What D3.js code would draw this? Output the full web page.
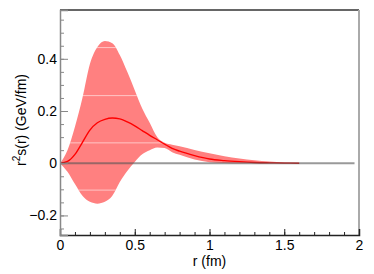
<!DOCTYPE html>
<html>
<head>
<meta charset="utf-8">
<script src="https://cdn.jsdelivr.net/npm/d3@7"></script>
<style>
  body { margin: 0; background: #fff; }
  text { font-family: "Liberation Sans", Arial, sans-serif; }
</style>
</head>
<body>
<div id="vis"></div>
<script>
// chart values
var radius  = [0, 0.05, 0.1, 0.15, 0.2, 0.25, 0.3, 0.35, 0.4, 0.45, 0.5, 0.55, 0.6, 0.65, 0.7,
               0.75, 0.8, 0.9, 1.0, 1.1, 1.2, 1.3, 1.4, 1.5, 1.6];
var central = [0, 0.007, 0.034, 0.08, 0.127, 0.155, 0.168, 0.173, 0.17, 0.158, 0.143, 0.125, 0.107, 0.09, 0.073,
               0.057, 0.046, 0.029, 0.016, 0.01, 0.006, 0.003, 0.0015, 0.0005, 0];
var upper   = [0, 0.05, 0.14, 0.25, 0.38, 0.445, 0.468, 0.46, 0.415, 0.35, 0.28, 0.21, 0.155, 0.1, 0.078,
               0.071, 0.065, 0.051, 0.038, 0.027, 0.018, 0.011, 0.0065, 0.003, 0.001];
var lower   = [0, -0.033, -0.08, -0.125, -0.148, -0.155, -0.148, -0.125, -0.072, -0.03, 0.005, 0.034, 0.05, 0.06, 0.058,
               0.042, 0.032, 0.014, 0.004, 0.001, 0, 0, 0, 0, 0];
// faint seams that show inside the filled band
var seams = [0.443, 0.259, 0.078, -0.103];

var xMajor = [0, 0.5, 1, 1.5, 2];
var yMajor = [-0.2, 0, 0.2, 0.4];

var width = 374;
var height = 274;
var margin = { top: 10, right: 15, bottom: 39, left: 60 };
var fontSize = 14;

var svg = d3.select('#vis')
    .append('svg')
    .attr('width', width)
    .attr('height', height);

var w = width - margin.left - margin.right;
var h = height - margin.top - margin.bottom;

var g = svg.append('g')
    .attr('transform', 'translate(' + margin.left + ',' + margin.top + ')');

var x = d3.scaleLinear().domain([0, 2]).range([0, w]);
var y = d3.scaleLinear().domain([-0.275, 0.587]).range([h, 0]);

var rows = radius.map(function(r, i) {
    return { r: r, c: central[i], hi: upper[i], lo: lower[i] };
});

var area = d3.area()
    .curve(d3.curveMonotoneX)
    .x(function(d) { return x(d.r); })
    .y0(function(d) { return y(d.lo); })
    .y1(function(d) { return y(d.hi); });

var line = d3.line()
    .curve(d3.curveMonotoneX)
    .x(function(d) { return x(d.r); })
    .y(function(d) { return y(d.c); });

g.append('clipPath')
    .attr('id', 'band-clip')
    .append('path')
    .attr('d', area(rows));

g.append('path')
    .attr('d', area(rows))
    .attr('fill', '#ff8080');

g.append('g')
    .attr('clip-path', 'url(#band-clip)')
    .selectAll('line')
    .data(seams)
    .enter()
    .append('line')
    .attr('x1', 0)
    .attr('x2', w)
    .attr('y1', function(d) { return y(d); })
    .attr('y2', function(d) { return y(d); })
    .attr('stroke', '#fff')
    .attr('stroke-opacity', 0.55)
    .attr('stroke-width', 1);

g.append('path')
    .attr('d', line(rows))
    .attr('fill', 'none')
    .attr('stroke', '#ff0000')
    .attr('stroke-width', 1.4);

// zero line
g.append('line')
    .attr('x1', x(0))
    .attr('x2', x(1.97))
    .attr('y1', y(0))
    .attr('y2', y(0))
    .attr('stroke', '#555')
    .attr('stroke-opacity', 0.6)
    .attr('stroke-width', 2);

// frame: top and right
g.append('line')
    .attr('x1', 0).attr('x2', w)
    .attr('y1', 0).attr('y2', 0)
    .attr('stroke', '#333').attr('stroke-width', 1.5);
g.append('line')
    .attr('x1', w).attr('x2', w)
    .attr('y1', 0).attr('y2', h)
    .attr('stroke', '#aaa').attr('stroke-width', 2);

// minor ticks
var xMinor = d3.range(0, 2.001, 0.1).map(function(d) { return +d.toFixed(2); });
var yMinor = d3.range(-0.25, 0.5501, 0.05).map(function(d) { return +d.toFixed(2); });

g.append('g')
    .attr('transform', 'translate(0,' + h + ')')
    .call(d3.axisBottom(x).tickValues(xMinor).tickSize(-3).tickFormat(''))
    .call(function(s) { s.select('.domain').remove(); s.selectAll('line').attr('stroke', '#222'); });

g.append('g')
    .call(d3.axisLeft(y).tickValues(yMinor).tickSize(-4).tickFormat(''))
    .call(function(s) { s.select('.domain').remove(); s.selectAll('line').attr('stroke', '#888'); });

// major axes
var fmtX = d3.format('~g');
var fmtY = function(d) { return d === 0 ? '0' : d3.format('.1f')(d); };

g.append('g')
    .attr('class', 'x axis')
    .attr('transform', 'translate(0,' + h + ')')
    .call(d3.axisBottom(x).tickValues(xMajor).tickSize(-6).tickPadding(5).tickFormat(fmtX))
    .call(function(s) {
        s.select('.domain').attr('stroke', '#222').attr('stroke-width', 1.5);
        s.selectAll('line').attr('stroke', '#222');
        s.selectAll('text').attr('font-size', fontSize).attr('fill', '#000')
            .style('font-family', '"Liberation Sans", Arial, sans-serif');
    });

g.append('g')
    .attr('class', 'y axis')
    .call(d3.axisLeft(y).tickValues(yMajor).tickSize(-8).tickPadding(3).tickFormat(fmtY))
    .call(function(s) {
        s.select('.domain').attr('stroke', '#888').attr('stroke-width', 1.5);
        s.selectAll('line').attr('stroke', '#888');
        s.selectAll('text').attr('font-size', fontSize).attr('fill', '#000')
            .style('font-family', '"Liberation Sans", Arial, sans-serif');
    });

// titles
svg.append('text')
    .attr('text-anchor', 'middle')
    .attr('x', margin.left + w / 2)
    .attr('y', 266)
    .attr('font-size', fontSize)
    .text('r (fm)');

var yTitle = svg.append('text')
    .attr('text-anchor', 'middle')
    .attr('transform', 'translate(26,120) rotate(-90)')
    .attr('font-size', fontSize);
yTitle.append('tspan').text('r');
yTitle.append('tspan').attr('font-size', 10).attr('dy', -6).text('2');
yTitle.append('tspan').attr('dy', 6).text('s(r) (GeV/fm)');
</script>
</body>
</html>
